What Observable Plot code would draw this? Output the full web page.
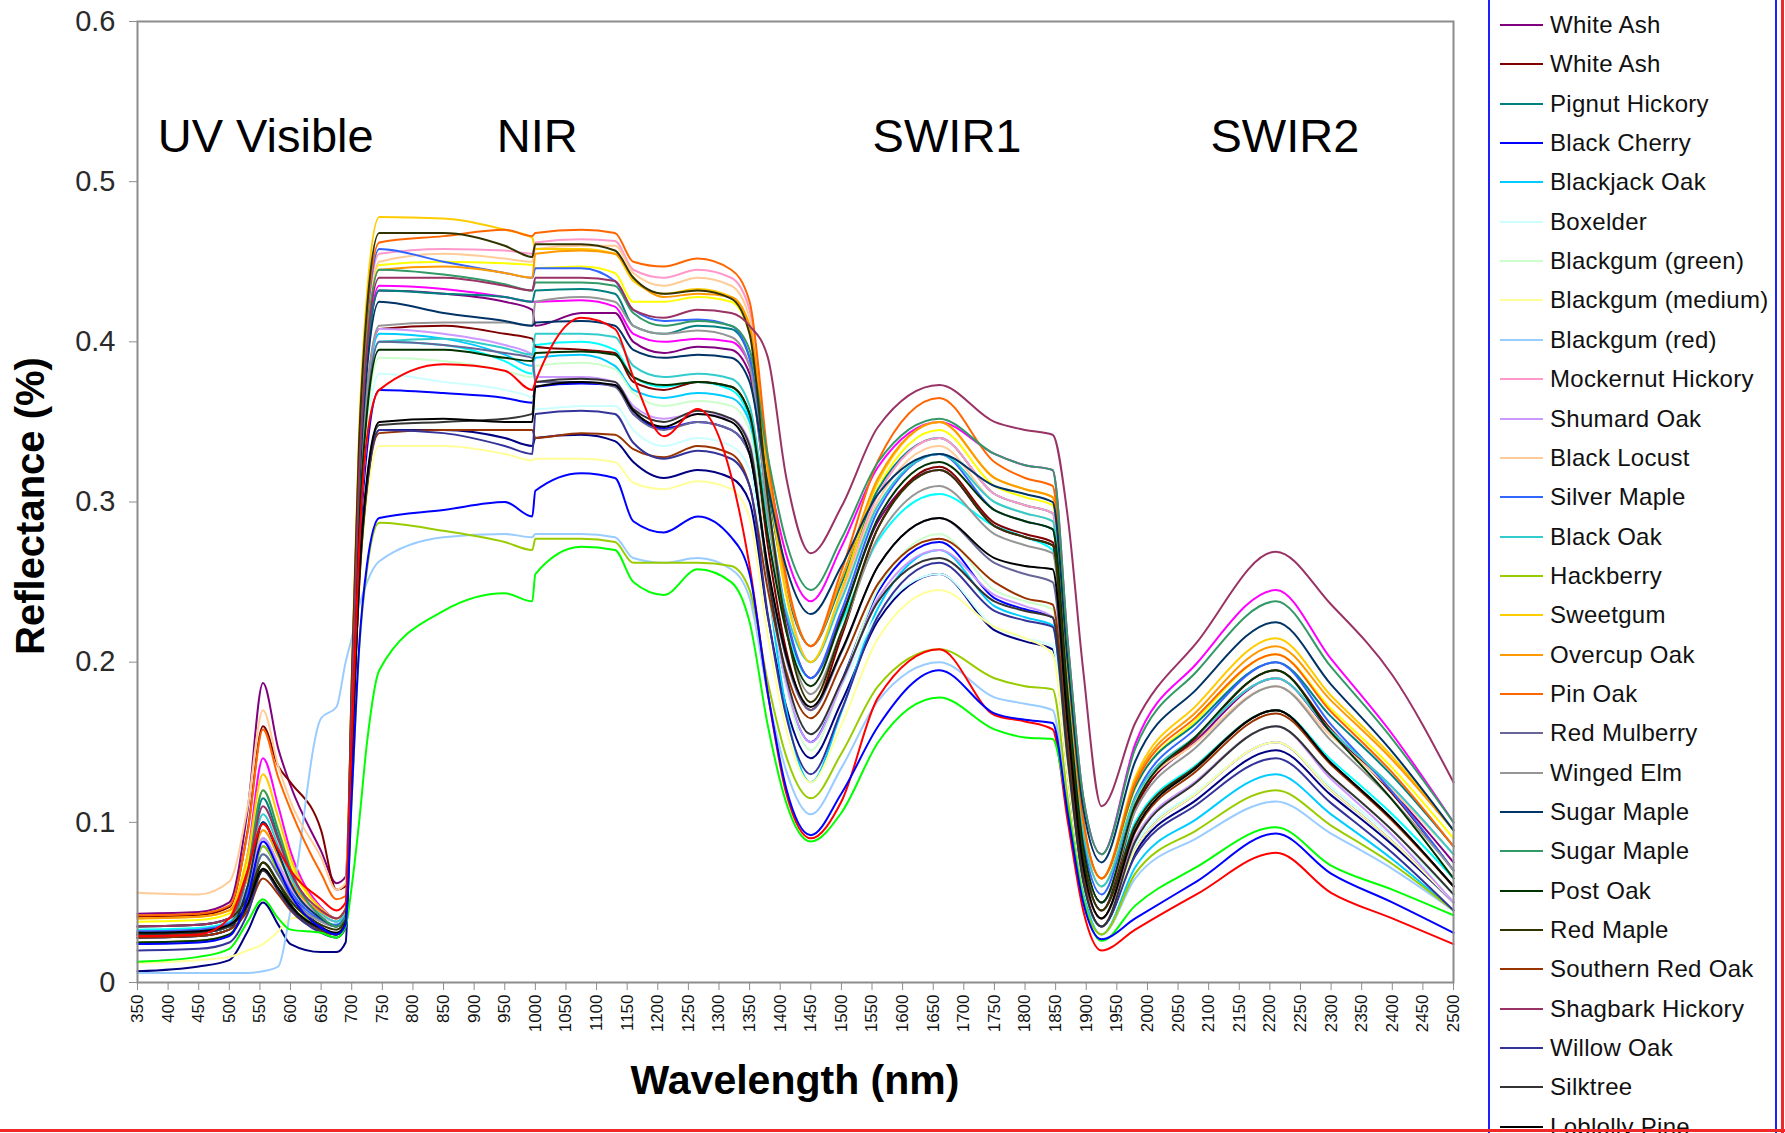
<!DOCTYPE html>
<html>
<head>
<meta charset="utf-8">
<script src="https://cdn.jsdelivr.net/npm/d3@7"></script>
<script src="https://cdn.jsdelivr.net/npm/@observablehq/plot@0.6"></script>
<style>
html,body{margin:0;padding:0;background:#fff;}
#wrap{position:relative;width:1785px;height:1133px;overflow:hidden;background:#fff;font-family:"Liberation Sans",Arial,sans-serif;}
#chart{position:absolute;left:0;top:0;}
#legend{position:absolute;left:1488px;top:-20px;width:289px;height:1200px;border-left:2px solid #2020ff;border-right:2px solid #2020ff;box-sizing:border-box;}
.lgline{position:absolute;left:1500px;width:43px;height:2px;}
.lgtext{position:absolute;left:1550px;font-size:24px;line-height:28px;color:#111;white-space:nowrap;letter-spacing:0.3px;}
#xtitle{position:absolute;left:595px;width:400px;top:1057px;text-align:center;font-size:41px;font-weight:bold;color:#000;}
#ytitle{position:absolute;left:30px;top:506px;transform:translate(-50%,-50%) rotate(-90deg);font-size:40px;font-weight:bold;color:#000;white-space:nowrap;}
#redR{position:absolute;left:1781px;top:0;width:3px;height:1133px;background:#f02828;}
#redB{position:absolute;left:0;top:1129px;width:1785px;height:3px;background:#f02828;}
</style>
</head>
<body>
<div id="wrap">
  <div id="chart"></div>
  <div id="legend"></div>
  <div id="xtitle">Wavelength (nm)</div>
  <div id="ytitle">Reflectance (%)</div>
  <div id="redR"></div>
  <div id="redB"></div>
</div>
<script>
const wavelengths = [350,450,500,530,555,580,600,650,675,690,700,712,725,745,850,950,995,1000,1075,1130,1160,1210,1265,1320,1350,1380,1410,1450,1500,1560,1660,1750,1800,1845,1870,1895,1925,1980,2080,2210,2300,2400,2500];

const xTicks = [350,400,450,500,550,600,650,700,750,800,850,900,950,1000,1050,1100,1150,1200,1250,1300,1350,1400,1450,1500,1550,1600,1650,1700,1750,1800,1850,1900,1950,2000,2050,2100,2150,2200,2250,2300,2350,2400,2450,2500];
const yTicks = [0,0.1,0.2,0.3,0.4,0.5,0.6];

const regionNames = ["UV Visible","NIR","SWIR1","SWIR2"];
const regionStartNm = [383,937,1551,2103];
const regionLevel = [0.528,0.528,0.528,0.528];

// reflectance series, one value per wavelength above
const hidden1 = [.007,.010,.014,.032,.050,.036,.024,.019,.019,.025,.138,.248,.310,.345,.345,.340,.335,.340,.342,.338,.325,.315,.320,.315,.300,.228,.172,.140,.175,.226,.255,.220,.213,.208,.130,.061,.035,.081,.114,.145,.117,.086,.050];
const hidden2 = [.030,.031,.035,.080,.140,.110,.082,.047,.040,.046,.174,.313,.392,.435,.433,.428,.425,.425,.426,.422,.405,.400,.402,.400,.385,.319,.267,.238,.272,.322,.350,.330,.323,.320,.212,.116,.080,.149,.199,.245,.202,.155,.100];
const hidden3 = [.038,.039,.043,.075,.120,.096,.074,.046,.040,.046,.179,.323,.403,.448,.450,.449,.448,.446,.447,.443,.425,.425,.428,.425,.405,.313,.241,.200,.244,.309,.345,.310,.303,.298,.191,.096,.060,.121,.164,.205,.171,.134,.090];
const hidden4 = [.033,.034,.038,.054,.080,.067,.054,.039,.036,.042,.160,.288,.360,.400,.398,.388,.380,.398,.400,.395,.378,.372,.375,.370,.352,.279,.222,.190,.225,.276,.305,.285,.278,.270,.171,.083,.050,.100,.136,.170,.139,.105,.065];
const whiteAsh1 = [.043,.044,.050,.108,.187,.146,.123,.082,.062,.066,.173,.311,.389,.432,.430,.425,.420,.410,.418,.418,.400,.393,.397,.395,.380,.295,.228,.190,.229,.288,.320,.285,.278,.273,.173,.083,.050,.109,.151,.190,.156,.119,.075];
const whiteAsh2 = [.041,.042,.047,.095,.160,.135,.125,.095,.058,.060,.163,.294,.367,.408,.410,.405,.402,.397,.395,.393,.375,.370,.375,.372,.355,.272,.207,.170,.216,.284,.322,.287,.280,.275,.172,.080,.045,.108,.153,.195,.158,.118,.070];
const pignutHickory = [.030,.031,.035,.068,.115,.091,.069,.041,.035,.041,.173,.311,.389,.432,.430,.428,.425,.432,.433,.430,.410,.405,.410,.408,.390,.309,.246,.210,.249,.308,.340,.305,.298,.293,.190,.099,.065,.122,.162,.200,.166,.129,.085];
const blackCherry = [.028,.029,.033,.060,.100,.079,.059,.035,.030,.036,.148,.266,.333,.370,.368,.365,.362,.372,.374,.373,.355,.346,.350,.345,.330,.249,.186,.150,.188,.244,.275,.240,.233,.228,.141,.064,.035,.083,.118,.150,.120,.088,.050];
const blackjackOak = [.035,.036,.040,.060,.090,.074,.060,.042,.038,.044,.162,.292,.365,.405,.402,.392,.385,.390,.392,.385,.370,.365,.368,.365,.350,.249,.170,.125,.169,.234,.270,.235,.228,.223,.136,.059,.030,.072,.102,.130,.105,.077,.045];
const boxelder = [.030,.031,.035,.052,.080,.067,.054,.038,.035,.041,.152,.274,.342,.380,.375,.370,.365,.358,.360,.360,.345,.335,.340,.335,.320,.246,.188,.155,.185,.230,.255,.222,.215,.210,.134,.066,.040,.086,.119,.150,.122,.091,.055];
const blackgumGreen = [.030,.031,.035,.059,.095,.077,.060,.039,.035,.041,.156,.281,.351,.390,.388,.382,.378,.385,.387,.383,.368,.360,.363,.360,.345,.255,.185,.145,.186,.246,.280,.245,.238,.233,.146,.069,.040,.090,.126,.160,.129,.095,.055];
const blackgumMedium = [.012,.014,.016,.020,.024,.032,.040,.042,.040,.045,.134,.241,.302,.335,.335,.330,.326,.327,.327,.325,.312,.308,.313,.308,.290,.216,.158,.125,.161,.215,.245,.222,.215,.205,.129,.061,.035,.083,.118,.150,.120,.088,.050];
const blackgumRed = [.006,.006,.006,.006,.007,.010,.045,.165,.172,.200,.215,.235,.250,.263,.278,.280,.278,.280,.280,.278,.265,.262,.265,.258,.240,.179,.132,.105,.134,.176,.200,.178,.174,.170,.107,.051,.030,.065,.090,.113,.093,.071,.045];
const mockernutHickory = [.035,.036,.040,.060,.090,.074,.060,.042,.038,.044,.182,.328,.410,.455,.458,.457,.455,.462,.464,.463,.445,.440,.445,.440,.420,.321,.244,.200,.242,.305,.340,.305,.298,.293,.188,.095,.060,.115,.154,.190,.157,.122,.080];
const shumardOak = [.032,.033,.037,.058,.090,.074,.058,.039,.035,.041,.163,.294,.367,.408,.405,.398,.392,.378,.378,.375,.360,.352,.355,.352,.337,.253,.187,.150,.186,.240,.270,.242,.235,.228,.143,.068,.040,.090,.126,.160,.127,.092,.050];
const blackLocust = [.056,.055,.063,.110,.170,.135,.113,.078,.058,.062,.180,.324,.405,.450,.455,.452,.450,.458,.460,.460,.443,.435,.440,.435,.415,.318,.243,.200,.241,.301,.335,.300,.293,.288,.185,.094,.060,.113,.150,.185,.154,.120,.080];
const silverMaple = [.032,.033,.037,.056,.085,.070,.057,.039,.036,.042,.183,.330,.412,.458,.450,.443,.440,.446,.446,.438,.420,.413,.414,.410,.390,.300,.230,.190,.232,.295,.330,.295,.288,.283,.180,.089,.055,.116,.159,.200,.161,.119,.070];
const blackOak = [.035,.036,.040,.067,.105,.085,.066,.043,.038,.044,.160,.288,.360,.400,.402,.396,.392,.405,.405,.403,.385,.378,.380,.377,.360,.288,.232,.200,.239,.298,.330,.300,.293,.288,.185,.094,.060,.115,.154,.190,.157,.122,.080];
const hackberry = [.025,.026,.030,.052,.085,.069,.053,.034,.030,.036,.115,.207,.258,.287,.282,.275,.270,.277,.277,.275,.262,.262,.262,.260,.245,.187,.141,.115,.143,.185,.208,.190,.185,.183,.114,.053,.030,.068,.095,.120,.098,.074,.045];
const sweetgum = [.040,.041,.045,.080,.130,.103,.078,.046,.040,.046,.191,.344,.430,.478,.477,.470,.465,.458,.458,.455,.438,.430,.433,.428,.410,.316,.242,.200,.245,.313,.350,.315,.308,.303,.196,.101,.065,.128,.173,.215,.179,.141,.095];
const overcupOak = [.040,.041,.045,.065,.095,.079,.063,.044,.040,.046,.178,.320,.400,.445,.447,.443,.440,.455,.457,.455,.440,.428,.430,.428,.410,.320,.250,.210,.252,.315,.350,.315,.308,.303,.196,.101,.065,.126,.169,.210,.176,.139,.095];
const pinOak = [.042,.043,.048,.094,.158,.128,.108,.068,.052,.054,.185,.333,.416,.462,.466,.470,.466,.468,.470,.468,.450,.447,.452,.445,.425,.328,.253,.210,.257,.326,.365,.325,.315,.310,.200,.102,.065,.124,.166,.205,.169,.131,.085];
const redMulberry = [.030,.031,.035,.052,.080,.067,.054,.038,.035,.041,.160,.288,.360,.400,.398,.393,.390,.375,.375,.372,.355,.345,.350,.345,.330,.258,.202,.170,.206,.260,.290,.262,.255,.250,.158,.076,.045,.098,.135,.170,.137,.102,.060];
const wingedElm = [.030,.031,.035,.050,.075,.063,.052,.038,.035,.041,.164,.295,.369,.410,.412,.412,.410,.425,.428,.425,.410,.405,.407,.403,.385,.293,.221,.180,.219,.278,.310,.280,.273,.268,.170,.083,.050,.107,.147,.185,.151,.114,.070];
const sugarMaple1 = [.028,.029,.033,.060,.100,.081,.062,.040,.035,.041,.170,.306,.383,.425,.418,.413,.410,.412,.413,.410,.395,.390,.392,.390,.375,.310,.259,.230,.260,.305,.330,.310,.305,.300,.199,.109,.075,.138,.183,.225,.186,.144,.095];
const sugarMaple2 = [.030,.031,.035,.070,.120,.095,.071,.041,.035,.041,.178,.320,.400,.445,.442,.436,.432,.437,.437,.435,.418,.410,.413,.410,.395,.328,.275,.245,.277,.325,.352,.330,.323,.320,.212,.116,.080,.146,.194,.238,.197,.152,.100];
const postOak = [.025,.026,.030,.048,.075,.062,.049,.033,.030,.036,.158,.284,.356,.395,.395,.390,.388,.393,.394,.392,.378,.373,.375,.372,.355,.279,.219,.185,.227,.290,.325,.295,.288,.283,.178,.085,.050,.111,.154,.195,.156,.114,.065];
const redMaple = [.035,.036,.040,.053,.075,.062,.051,.036,.033,.039,.187,.337,.421,.468,.468,.460,.453,.461,.461,.457,.440,.430,.432,.427,.405,.302,.221,.175,.219,.284,.320,.285,.278,.273,.170,.079,.045,.098,.135,.170,.137,.102,.060];
const southernRedOak = [.028,.029,.033,.045,.065,.055,.045,.032,.030,.036,.137,.247,.309,.343,.345,.345,.345,.340,.343,.342,.333,.328,.335,.330,.310,.245,.194,.165,.199,.249,.277,.250,.240,.236,.148,.069,.040,.094,.132,.168,.136,.101,.060];
const shagbarkHickory = [.035,.036,.040,.069,.110,.089,.069,.045,.040,.046,.176,.317,.396,.440,.440,.435,.432,.440,.440,.438,.420,.415,.420,.418,.410,.390,.315,.268,.297,.347,.373,.350,.345,.342,.290,.195,.110,.162,.212,.269,.236,.192,.125];
const willowOak = [.020,.021,.025,.043,.070,.057,.046,.031,.028,.034,.138,.248,.310,.345,.343,.335,.330,.355,.357,.355,.337,.327,.332,.327,.310,.229,.166,.130,.170,.229,.262,.232,.226,.222,.138,.063,.035,.079,.111,.140,.112,.081,.045];
const silktree = [.030,.031,.035,.048,.070,.058,.047,.033,.030,.036,.139,.251,.313,.348,.350,.352,.355,.375,.377,.375,.358,.350,.357,.352,.335,.254,.191,.155,.188,.238,.265,.238,.232,.228,.141,.064,.035,.088,.125,.160,.129,.095,.055];
const loblollyPine = [.031,.032,.036,.049,.071,.059,.048,.034,.031,.037,.140,.252,.315,.350,.352,.350,.350,.372,.375,.373,.357,.347,.355,.350,.330,.259,.204,.172,.207,.260,.290,.265,.260,.258,.160,.073,.040,.095,.134,.170,.137,.102,.060];
const extraRed = [.029,.030,.040,.070,.099,.083,.070,.052,.045,.050,.150,.270,.340,.370,.386,.382,.370,.375,.415,.408,.378,.341,.358,.316,.260,.180,.118,.090,.113,.178,.208,.167,.163,.158,.100,.045,.020,.033,.055,.081,.056,.040,.024];
const extraGreen = [.013,.016,.021,.038,.052,.040,.033,.031,.028,.035,.060,.100,.150,.195,.232,.243,.238,.255,.272,.270,.250,.242,.258,.250,.225,.160,.112,.088,.106,.150,.178,.158,.153,.152,.108,.052,.026,.048,.072,.097,.073,.058,.042];
const extraBlue = [.024,.025,.029,.053,.088,.071,.055,.034,.030,.036,.116,.209,.261,.290,.295,.300,.291,.307,.318,.315,.288,.281,.291,.278,.255,.180,.121,.092,.118,.160,.195,.168,.164,.162,.105,.050,.027,.040,.063,.093,.068,.050,.031];

const seriesNames = ["","","","","White Ash","White Ash","Pignut Hickory","Black Cherry","Blackjack Oak","Boxelder","Blackgum (green)","Blackgum (medium)","Blackgum (red)","Mockernut Hickory","Shumard Oak","Black Locust","Silver Maple","Black Oak","Hackberry","Sweetgum","Overcup Oak","Pin Oak","Red Mulberry","Winged Elm","Sugar Maple","Sugar Maple","Post Oak","Red Maple","Southern Red Oak","Shagbark Hickory","Willow Oak","Silktree","Loblolly Pine","","",""];
const seriesColors = ["#000080","#FF00FF","#FFFF00","#00FFFF","#800080","#800000","#008080","#0000FF","#00CCFF","#CCFFFF","#CCFFCC","#FFFF99","#99CCFF","#FF99CC","#CC99FF","#FFCC99","#3366FF","#33CCCC","#99CC00","#FFCC00","#FF9900","#FF6600","#666699","#969696","#003366","#339966","#003300","#333300","#993300","#993366","#333399","#333333","#000000","#FF0000","#00FF00","#0000FF"];
const seriesValues = [hidden1,hidden2,hidden3,hidden4,whiteAsh1,whiteAsh2,pignutHickory,blackCherry,blackjackOak,boxelder,blackgumGreen,blackgumMedium,blackgumRed,mockernutHickory,shumardOak,blackLocust,silverMaple,blackOak,hackberry,sweetgum,overcupOak,pinOak,redMulberry,wingedElm,sugarMaple1,sugarMaple2,postOak,redMaple,southernRedOak,shagbarkHickory,willowOak,silktree,loblollyPine,extraRed,extraGreen,extraBlue];
const legendHiddenAbove = 4;

seriesValues.forEach((a, k) => { if (a.length !== wavelengths.length) throw new Error("length mismatch in series " + k + ": " + a.length); });

const rows = [];
seriesValues.forEach((vals, k) => {
  vals.forEach((v, i) => rows.push({key: k, wl: wavelengths[i], v, color: seriesColors[k]}));
});

const regions = regionNames.map((t, i) => ({t, x: regionStartNm[i], y: regionLevel[i]}));

const chart = Plot.plot({
  width: 1480,
  height: 1050,
  marginLeft: 137,
  marginRight: 27,
  marginTop: 21,
  marginBottom: 68,
  style: {fontFamily: "Liberation Sans, Arial, sans-serif", background: "white", overflow: "visible"},
  x: {domain: [350, 2500]},
  y: {domain: [0, 0.6]},
  color: {type: "identity"},
  marks: [
    Plot.line(rows, {x: "wl", y: "v", z: "key", stroke: "color", strokeWidth: 2, curve: "monotone-x"}),
    Plot.frame({stroke: "#8c8c8c", strokeWidth: 2}),
    Plot.axisY({ticks: yTicks, tickFormat: d => d === 0 ? "0" : d.toFixed(1), tickSize: 8, tickPadding: 14, fontSize: 29, stroke: "#8c8c8c", fill: "#2a2a2a", label: null}),
    Plot.axisX({ticks: xTicks, tickFormat: d => String(d), tickRotate: -90, tickSize: 8, tickPadding: 4, fontSize: 17, stroke: "#8c8c8c", fill: "#111", label: null}),
    Plot.text(regions, {x: "x", y: "y", text: "t", textAnchor: "start", fontSize: 47, fill: "#000"})
  ]
});
document.getElementById("chart").appendChild(chart);

// legend (top of the list is scrolled above the visible area, as in the source)
const wrap = document.getElementById("wrap");
seriesNames.forEach((name, k) => {
  const idx = k - legendHiddenAbove;
  if (idx < 0 || !name) return;
  const y = 25 + idx * 39.35;
  const ln = document.createElement("div");
  ln.className = "lgline";
  ln.style.top = (y - 1) + "px";
  ln.style.background = seriesColors[k];
  wrap.insertBefore(ln, document.getElementById("redR"));
  const tx = document.createElement("div");
  tx.className = "lgtext";
  tx.style.top = (y - 14) + "px";
  tx.textContent = name;
  wrap.insertBefore(tx, document.getElementById("redR"));
});
</script>
</body>
</html>
